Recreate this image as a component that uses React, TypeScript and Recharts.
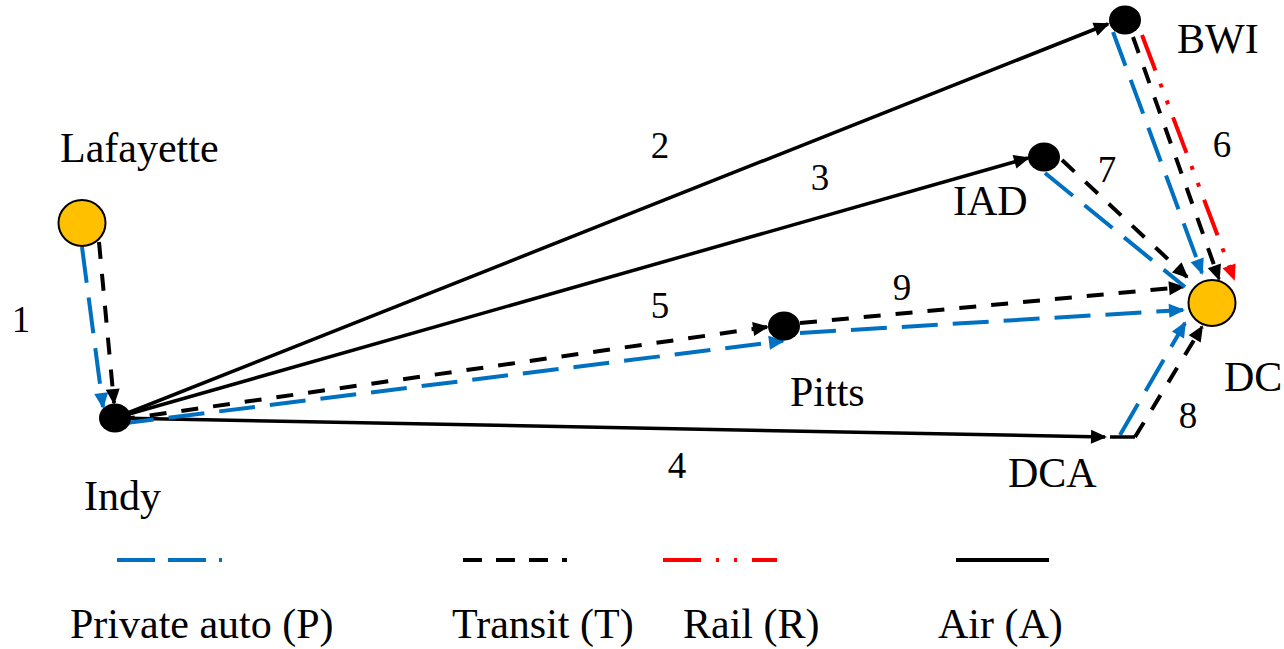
import { ScatterChart, Scatter, XAxis, YAxis, ReferenceLine } from 'recharts';

// chart drawn 1:1 with page pixels
const WIDTH = 1284;
const HEIGHT = 649;

type Mode = 'P' | 'T' | 'R' | 'A';

// nodes of the network (x, y in px of the figure)
const nodeNames = ['Lafayette', 'Indy', 'BWI', 'IAD', 'Pitts', 'DC'];
const nodeX = [82, 115, 1125, 1044, 784, 1212];
const nodeY = [223, 418, 20, 157, 326, 303];
const nodeKind = ['origin', 'hub', 'hub', 'hub', 'hub', 'origin'];

// links: route number, travel mode, start and end (arrow tip)
const linkRoute = ['1', '1', '2', '3', '4', '5', '5', '9', '9', '6', '6', '6', '7', '7', '8', '8', '8'];
const linkMode: Mode[] = ['P', 'T', 'A', 'A', 'A', 'T', 'P', 'T', 'P', 'P', 'T', 'R', 'T', 'P', 'P', 'T', 'A'];
const linkFrom = [
  [82, 247], [99, 242], [115, 418], [115, 418], [115, 418], [118, 420], [118, 424],
  [800, 323], [800, 333], [1113, 32], [1133, 37], [1142, 35], [1062, 160], [1045, 173],
  [1120, 435], [1135, 437], [1110, 437],
];
const linkTo = [
  [103, 407], [114, 403], [1108, 24], [1028, 158], [1105, 437], [767, 327], [783, 341],
  [1183, 287], [1183, 310], [1202, 273], [1219, 279], [1234, 279], [1187, 277], [1185, 287],
  [1185, 323], [1202, 327], [1135, 437],
];
const linkArrow = [true, true, true, true, true, true, true, true, true, true, true, true, true, false, true, true, false];

// legend entries
const legendModes: Mode[] = ['P', 'T', 'R', 'A'];
const legendNames = ['Private auto (P)', 'Transit (T)', 'Rail (R)', 'Air (A)'];

const MODE_STYLE: Record<Mode, { color: string; dash?: string; legendDash?: string }> = {
  P: { color: '#0070C0', dash: '36 15', legendDash: '38 13' },
  T: { color: '#000000', dash: '17 15', legendDash: '19 14' },
  R: { color: '#FF0000', dash: '38 14 4 14 4 14', legendDash: '38 15 3 15 3 15' },
  A: { color: '#000000' },
};

// layout of text and legend
const NODE_LABEL_POS: Record<string, [number, number]> = {
  Lafayette: [60, 162],
  Indy: [84, 510],
  BWI: [1177, 53],
  IAD: [953, 215],
  Pitts: [790, 406],
  DC: [1224, 391],
  DCA: [1008, 487],
};
const ROUTE_LABEL_POS: Record<string, [number, number]> = {
  '1': [21, 332],
  '2': [660, 158],
  '3': [820, 190],
  '4': [677, 478],
  '5': [660, 318],
  '6': [1222, 157],
  '7': [1107, 182],
  '8': [1188, 428],
  '9': [902, 300],
};
const LEGEND_LINE_Y = 560;
const LEGEND_TEXT_Y = 638;
const LEGEND_LINE_X: [number, number][] = [[117, 222], [463, 567], [663, 777], [956, 1049]];
const LEGEND_TEXT_X = [70, 452, 683, 938];

const FONT = '"Liberation Serif", "Times New Roman", serif';

const nodeData = nodeNames.map((name, i) => ({ name, x: nodeX[i], y: nodeY[i], kind: nodeKind[i] }));

const textData = [
  ...Object.entries(NODE_LABEL_POS).map(([t, p]) => ({ x: p[0], y: p[1], text: t, size: 42, anchor: 'start' })),
  ...Object.entries(ROUTE_LABEL_POS).map(([t, p]) => ({ x: p[0], y: p[1], text: t, size: 37, anchor: 'middle' })),
  ...legendNames.map((t, i) => ({ x: LEGEND_TEXT_X[i], y: LEGEND_TEXT_Y, text: t, size: 42, anchor: 'start' })),
];

function renderNode(props: any) {
  const { cx, cy, payload } = props;
  if (payload.kind === 'origin') {
    return <ellipse cx={cx} cy={cy} rx={23.5} ry={23} fill="#FFC000" stroke="#000" strokeWidth={2} />;
  }
  return <ellipse cx={cx} cy={cy} rx={16} ry={14.5} fill="#000" />;
}

function renderText(props: any) {
  const { cx, cy, payload } = props;
  return (
    <text x={cx} y={cy} textAnchor={payload.anchor} fontFamily={FONT} fontSize={payload.size} fill="#000">
      {payload.text}
    </text>
  );
}

function arrowHead(color: string) {
  return (props: any) => {
    const { cx, cy, payload } = props;
    if (!payload.head) return <g />;
    const a = Math.atan2(payload.y - payload.py, payload.x - payload.px);
    const c = Math.cos(a);
    const s = Math.sin(a);
    const len = 16;
    const half = 7;
    const tx = cx + 2 * c;
    const ty = cy + 2 * s;
    const bx = tx - len * c;
    const by = ty - len * s;
    const pts = `${tx},${ty} ${bx - half * s},${by + half * c} ${bx + half * s},${by - half * c}`;
    return <polygon points={pts} fill={color} />;
  };
}

export default function App() {
  return (
    <div style={{ position: 'absolute', left: 0, top: 0, background: '#fff' }}>
      <ScatterChart width={WIDTH} height={HEIGHT} margin={{ top: 0, right: 0, bottom: 0, left: 0 }}>
        <XAxis dataKey="x" type="number" domain={[0, WIDTH]} hide height={0} />
        <YAxis dataKey="y" type="number" domain={[0, HEIGHT]} reversed hide width={0} />

        {linkMode.map((mode, i) => {
          const st = MODE_STYLE[mode];
          const data = [
            { x: linkFrom[i][0], y: linkFrom[i][1], head: false, px: 0, py: 0 },
            { x: linkTo[i][0], y: linkTo[i][1], head: linkArrow[i], px: linkFrom[i][0], py: linkFrom[i][1] },
          ];
          return (
            <Scatter
              key={`link-${i}-${linkRoute[i]}`}
              data={data}
              fill={st.color}
              line={{ stroke: st.color, strokeWidth: mode === 'A' ? 3.5 : 4, strokeDasharray: st.dash }}
              lineType="joint"
              shape={arrowHead(st.color)}
              isAnimationActive={false}
              legendType="none"
            />
          );
        })}

        {legendModes.map((mode, i) => (
          <ReferenceLine
            key={`leg-${mode}`}
            segment={[
              { x: LEGEND_LINE_X[i][0], y: LEGEND_LINE_Y },
              { x: LEGEND_LINE_X[i][1], y: LEGEND_LINE_Y },
            ]}
            stroke={MODE_STYLE[mode].color}
            strokeWidth={4}
            strokeDasharray={MODE_STYLE[mode].legendDash}
            ifOverflow="visible"
          />
        ))}

        <Scatter data={nodeData} shape={renderNode} isAnimationActive={false} legendType="none" />
        <Scatter data={textData} shape={renderText} isAnimationActive={false} legendType="none" />
      </ScatterChart>
    </div>
  );
}
